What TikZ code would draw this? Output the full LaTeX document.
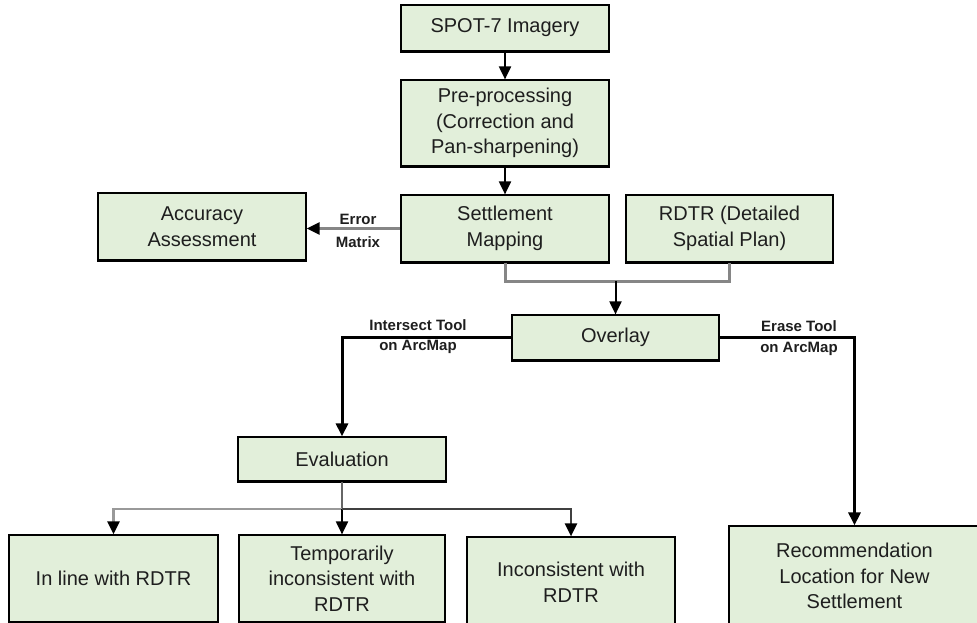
\documentclass[tikz,border=0pt]{standalone}
\usepackage{fontspec}
\setmainfont{Liberation Sans}
\usetikzlibrary{arrows.meta}
\definecolor{boxfill}{RGB}{226,239,218}
\definecolor{txt}{RGB}{30,30,30}
\begin{document}
\begin{tikzpicture}[x=1pt,y=-1pt,
  box/.style={draw=black,line width=1.2pt,fill=boxfill,align=center,inner sep=0pt,
    font=\fontsize{20}{25.5}\selectfont,text=txt},
  lbl/.style={font=\bfseries\fontsize{15}{17}\selectfont,text=txt,inner sep=0pt,align=center},
  arr/.style={-{Triangle[width=12pt,length=13pt,color=black]}},
  blk/.style={draw=black,line width=2pt},
  gry/.style={draw=gray!95,line width=2.6pt}
]
\useasboundingbox (0,0) rectangle (977,623);
\node[box,minimum width=208,minimum height=46] (spot) at (505,28) {SPOT-7 Imagery};
\node[box,minimum width=208,minimum height=86] (pre) at (505,123) {Pre-processing\\(Correction and\\Pan-sharpening)};
\node[box,minimum width=208,minimum height=67] (settle) at (505,228.5) {Settlement\\Mapping};
\node[box,minimum width=207,minimum height=67] (rdtr) at (729.5,228.5) {RDTR (Detailed\\Spatial Plan)};
\node[box,minimum width=208,minimum height=67] (acc) at (202,226.5) {Accuracy\\Assessment};
\node[box,minimum width=207,minimum height=45] (overlay) at (615.5,337.5) {Overlay};
\node[box,minimum width=208,minimum height=44] (eval) at (342,459) {Evaluation};
\node[box,minimum width=209,minimum height=87] (inl) at (113.5,578.5) {In line with RDTR};
\node[box,minimum width=206,minimum height=87] (temp) at (342,578.5) {Temporarily\\inconsistent with\\RDTR};
\node[box,minimum width=208,minimum height=90] (incons) at (571,582) {Inconsistent with\\RDTR};
\node[box,minimum width=251,minimum height=100] (rec) at (854.5,576) {Recommendation\\Location for New\\Settlement};
\foreach \n in {spot,pre,settle,rdtr,acc,overlay,eval,inl,temp}
  \draw[line width=2.4pt] (\n.south west) -- (\n.south east);
% labels
\node[lbl] (err) at (358,219) {Error};
\node[lbl] (mat) at (358,242) {Matrix};
\node[lbl] (it) at (418,325) {Intersect Tool};
\node[lbl] (ia) at (418,347) {on ArcMap};
\node[lbl] (et) at (799,326) {Erase Tool};
\node[lbl] (ea) at (799,349) {on ArcMap};
% connectors
\coordinate (busy) at (0,281);
\coordinate (busz) at (0,509);
\draw[blk,arr] (spot) -- (pre);
\draw[blk,arr] (pre) -- (settle);
\draw[gry,line width=2.4pt,arr] (settle.west) -- (acc.east |- settle.west);
\draw[gry,line width=3pt] (settle.south) -- (settle.south |- busy) -| (rdtr.south);
\draw[blk,arr] (overlay.north |- busy) -- (overlay.north);
\draw[blk,line width=3pt,arr] (overlay.west) -| (eval.north);
\draw[blk,line width=3pt,arr] (overlay.east) -| (rec.north);
\draw[draw=gray!80!black,line width=2.4pt] (eval.south) -- (eval.south |- busz);
\draw[draw=gray!80,line width=2.6pt,arr] (eval.south |- busz) -| (inl.north);
\draw[blk,arr] (eval.south |- busz) -- (temp.north);
\draw[draw=black!75,line width=2.4pt,arr] (eval.south |- busz) -| (incons.north);
\end{tikzpicture}
\end{document}
